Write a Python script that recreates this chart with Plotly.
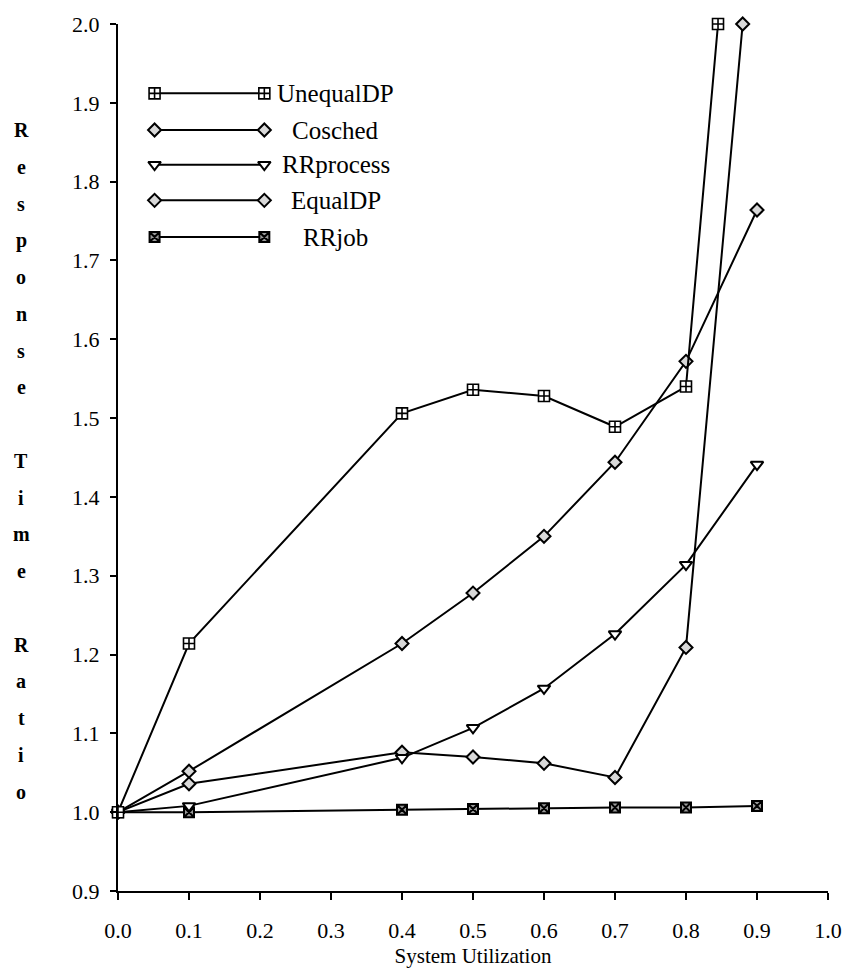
import plotly.graph_objects as go

# System utilization values at which each scheduler was measured
utilization = [0.0, 0.1, 0.4, 0.5, 0.6, 0.7, 0.8, 0.9]

# Response time ratio per scheduling policy
unequal_dp = [1.000, 1.214, 1.506, 1.536, 1.528, 1.489, 1.540, 2.560]
cosched    = [1.000, 1.052, 1.214, 1.278, 1.350, 1.444, 1.572, 1.764]
rr_process = [1.000, 1.008, 1.069, 1.107, 1.157, 1.226, 1.314, 1.441]
equal_dp   = [1.000, 1.036, 1.076, 1.070, 1.062, 1.044, 1.209, 2.200]
rr_job     = [1.000, 1.000, 1.003, 1.004, 1.005, 1.006, 1.006, 1.008]

series_names = ["UnequalDP", "Cosched", "RRprocess", "EqualDP", "RRjob"]
x_ticks = [0.0, 0.1, 0.2, 0.3, 0.4, 0.5, 0.6, 0.7, 0.8, 0.9, 1.0]
y_ticks = [0.9, 1.0, 1.1, 1.2, 1.3, 1.4, 1.5, 1.6, 1.7, 1.8, 1.9, 2.0]
y_title = "Response Time Ratio"

Y_MIN, Y_MAX = 0.9, 2.0
FONT = "Liberation Serif, Times New Roman, serif"

styles = {
    "UnequalDP": dict(symbol="square-cross", size=11, color="white", line=dict(color="black", width=1.6)),
    "Cosched":   dict(symbol="diamond", size=10, color="#d8d8d8", line=dict(color="black", width=2)),
    "RRprocess": dict(symbol="triangle-down", size=11, color="white", line=dict(color="black", width=2)),
    "EqualDP":   dict(symbol="diamond", size=10, color="#d8d8d8", line=dict(color="black", width=2)),
    "RRjob":     dict(symbol="square-x", size=10, color="#9a9a9a", line=dict(color="black", width=2)),
}


def clip_to_axis(xs, ys, top):
    """Stop a series where it leaves the top of the axis, like the plotting
    package did: the off-scale point is replaced by the crossing point."""
    out_x, out_y = [], []
    for i, (x, y) in enumerate(zip(xs, ys)):
        if y <= top:
            out_x.append(x)
            out_y.append(y)
            continue
        x0, y0 = xs[i - 1], ys[i - 1]
        t = (top - y0) / (y - y0)
        out_x.append(x0 + t * (x - x0))
        out_y.append(top)
        break
    return out_x, out_y


fig = go.Figure()

all_series = [unequal_dp, cosched, rr_process, equal_dp, rr_job]
# draw the flat lines first so the steeper curves sit on top
for name, values in reversed(list(zip(series_names, all_series))):
    xs, ys = clip_to_axis(utilization, values, Y_MAX)
    fig.add_trace(go.Scatter(
        x=xs, y=ys, mode="lines+markers", name=name,
        line=dict(color="black", width=2),
        marker=styles[name], cliponaxis=False, showlegend=False,
    ))

# Hand-drawn key: a line with a symbol at each end, label centred to its right
key_x0, key_x1, key_label_x = 0.0515, 0.2061, 0.3064
key_rows = [0.920, 0.8777, 0.8377, 0.7966, 0.7543]
for name, ky in zip(series_names, key_rows):
    fig.add_trace(go.Scatter(
        x=[key_x0, key_x1], y=[ky, ky], xaxis="x2", yaxis="y2",
        mode="lines+markers", line=dict(color="black", width=2),
        marker=styles[name], showlegend=False, hoverinfo="skip",
        cliponaxis=False,
    ))
    fig.add_annotation(
        x=key_label_x, y=ky, xref="paper", yref="paper", text=name,
        showarrow=False, xanchor="center", yanchor="middle",
        font=dict(family=FONT, size=25, color="black"),
    )

# Vertical axis title, one letter per line
title_top_px, title_pitch_px = 130.0, 37.1
plot_top_px, plot_h_px = 23.0, 875.0
for i, ch in enumerate(y_title):
    if ch == " ":
        continue
    py = title_top_px + i * title_pitch_px
    fig.add_annotation(
        x=-0.1365, y=1 - (py - plot_top_px) / plot_h_px,
        xref="paper", yref="paper", text=ch, showarrow=False,
        xanchor="center", yanchor="middle",
        font=dict(family=FONT, size=20, color="black", weight="bold"),
    )

fig.update_layout(
    width=854, height=976,
    margin=dict(l=118, r=18, t=23, b=78),
    paper_bgcolor="white", plot_bgcolor="white",
    showlegend=False,
    font=dict(family=FONT, color="black"),
    xaxis=dict(
        range=[0, 1], tickvals=x_ticks, ticktext=[f"{v:.1f}" for v in x_ticks],
        showgrid=False, zeroline=False, showline=True, linecolor="black",
        linewidth=2, ticks="outside", ticklen=7, tickwidth=2, tickcolor="black",
        tickfont=dict(family=FONT, size=22, color="black"),
        ticklabelstandoff=12,
        title=dict(text="System Utilization", font=dict(family=FONT, size=21, color="black"),
                   standoff=6),
    ),
    yaxis=dict(
        range=[Y_MIN, Y_MAX], tickvals=y_ticks, ticktext=[f"{v:.1f}" for v in y_ticks],
        showgrid=False, zeroline=False, showline=True, linecolor="black",
        linewidth=2, ticks="outside", ticklen=6, tickwidth=2, tickcolor="black",
        tickfont=dict(family=FONT, size=22, color="black"),
        ticklabelstandoff=6,
    ),
    xaxis2=dict(range=[0, 1], overlaying="x", visible=False),
    yaxis2=dict(range=[0, 1], overlaying="y", visible=False),
)

fig.write_html("out.html")
